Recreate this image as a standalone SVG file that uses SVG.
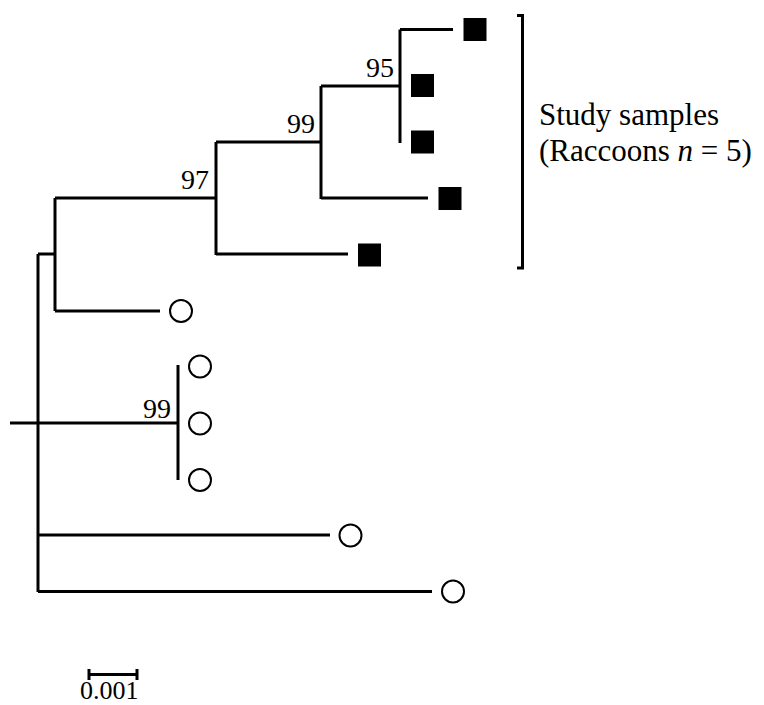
<svg xmlns="http://www.w3.org/2000/svg" width="764" height="705" viewBox="0 0 764 705">
<style>
.br{fill:none;stroke:#000;stroke-width:3;stroke-linecap:butt;stroke-linejoin:miter}
.sq{fill:#000}
.ci{fill:#fff;stroke:#000;stroke-width:2}
.lb{font-family:"Liberation Serif","Times New Roman",serif;font-size:28px;fill:#000}
.tx{font-family:"Liberation Serif","Times New Roman",serif;font-size:31px;fill:#000}
</style>
<rect width="764" height="705" fill="#fff"/>
<g id="connectors">
<path class="br" d="M10,423 H178"/>
<path class="br" d="M38,254 V592"/>
<path class="br" d="M38,254 H55"/>
<path class="br" d="M55,198 V311"/>
<path class="br" d="M55,311 H160"/>
<path class="br" d="M55,198 H216"/>
<path class="br" d="M216,142 V255"/>
<path class="br" d="M216,254 H348"/>
<path class="br" d="M216,142 H321"/>
<path class="br" d="M321,86 V199"/>
<path class="br" d="M321,198 H428"/>
<path class="br" d="M321,86 H400"/>
<path class="br" d="M400,29.5 V143"/>
<path class="br" d="M400,29.5 H453"/>
<path class="br" d="M178,365 V480"/>
<path class="br" d="M38,535 H330"/>
<path class="br" d="M38,591.5 H432"/>
</g>
<g id="labels">
<text class="lb" x="394" y="77" text-anchor="end">95</text>
<text class="lb" x="315" y="133" text-anchor="end">99</text>
<text class="lb" x="209" y="189" text-anchor="end">97</text>
<text class="lb" x="171" y="418" text-anchor="end">99</text>
</g>
<g id="sample1"><rect class="sq" x="463.5" y="18" width="23" height="23"/></g>
<g id="sample2"><rect class="sq" x="411" y="74" width="23" height="23"/></g>
<g id="sample3"><rect class="sq" x="411" y="130.5" width="23" height="23"/></g>
<g id="sample4"><rect class="sq" x="438.5" y="187" width="23" height="23"/></g>
<g id="sample5"><rect class="sq" x="358" y="243.5" width="23" height="23"/></g>
<g id="ref1"><circle class="ci" cx="181" cy="311" r="11"/></g>
<g id="ref2"><circle class="ci" cx="200" cy="366.5" r="11"/></g>
<g id="ref3"><circle class="ci" cx="200" cy="423.5" r="11"/></g>
<g id="ref4"><circle class="ci" cx="200" cy="480" r="11"/></g>
<g id="ref5"><circle class="ci" cx="350.5" cy="535.5" r="11"/></g>
<g id="ref6"><circle class="ci" cx="453" cy="591.5" r="11"/></g>
<g id="bracket">
<path class="br" d="M517,15.5 H522.5 V268 H517"/>
<text class="tx" x="539" y="125">Study samples</text>
<text class="tx" x="539" y="161">(Raccoons <tspan font-style="italic">n</tspan> = 5)</text>
</g>
<g id="scalebar">
<path class="br" d="M89,674.5 H137 M89,669 V680 M137,669 V680"/>
<text class="lb" x="80" y="699" style="font-size:26px">0.001</text>
</g>
</svg>
